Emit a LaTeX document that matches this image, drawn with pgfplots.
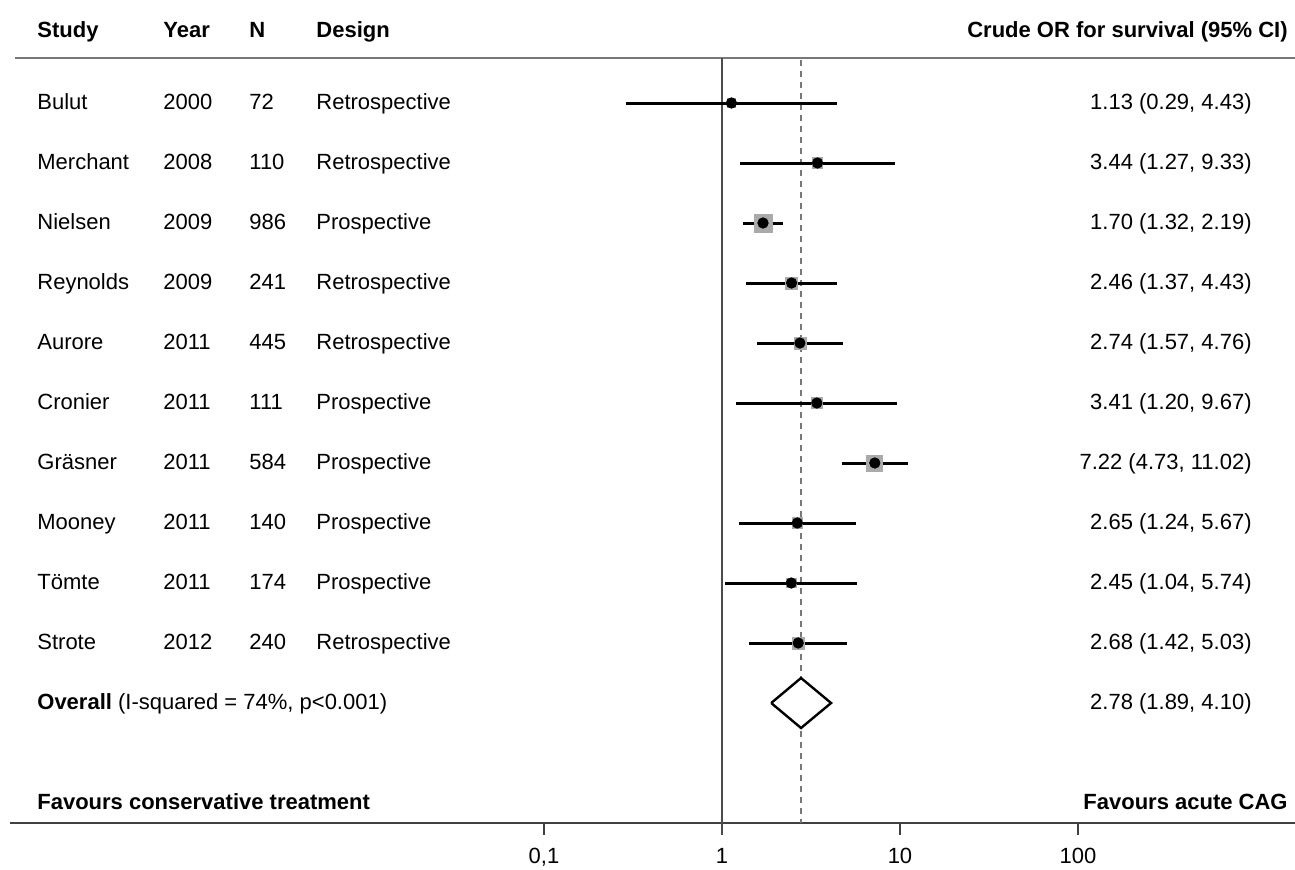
\documentclass[border=0pt]{standalone}
\usepackage{pgfplots}
\pgfplotsset{compat=1.18}
\usepackage{fontspec}
\setmainfont{Liberation Sans}
\definecolor{linegray}{RGB}{120,120,120}
\definecolor{boxgray}{RGB}{170,170,170}
\begin{document}
\fontsize{11}{13}\selectfont
\begin{tikzpicture}
\useasboundingbox (0,0) rectangle (647.5pt,-435pt);
\begin{axis}[at={(0,0)}, anchor=north west, width=647.5pt, height=435pt, scale only axis,
  xmode=log, xmin=8.79e-5, xmax=1656, ymin=0, ymax=870, y dir=reverse,
  hide axis, clip=false]
% reference lines
\draw[linegray, line width=0.9pt] (axis cs:1.07e-4,58) -- (axis cs:1656,58);
\draw[black!75, line width=0.9pt] (axis cs:1.0e-4,823) -- (axis cs:1656,823);
\draw[black!70, line width=0.9pt] (axis cs:1,58) -- (axis cs:1,835);
\draw[linegray, line width=0.6pt, dash pattern=on 3pt off 2.5pt] (axis cs:2.78,60) -- (axis cs:2.78,823);
\pgfplotsinvokeforeach{0.1,10,100}{\draw[black!75, line width=0.8pt] (axis cs:#1,823) -- (axis cs:#1,835);}
\node[anchor=base] at (axis cs:0.1,863) {0,1};
\node[anchor=base] at (axis cs:1,863) {1};
\node[anchor=base] at (axis cs:10,863) {10};
\node[anchor=base] at (axis cs:100,863) {100};
% confidence intervals
\pgfplotsset{ci/.style={black, line width=1.5pt, no marks, forget plot}}
\addplot[ci] coordinates {(0.29,103) (4.43,103)};
\addplot[ci] coordinates {(1.27,163) (9.33,163)};
\addplot[ci] coordinates {(1.32,223) (2.19,223)};
\addplot[ci] coordinates {(1.37,283) (4.43,283)};
\addplot[ci] coordinates {(1.57,343) (4.76,343)};
\addplot[ci] coordinates {(1.20,403) (9.67,403)};
\addplot[ci] coordinates {(4.73,463) (11.02,463)};
\addplot[ci] coordinates {(1.24,523) (5.67,523)};
\addplot[ci] coordinates {(1.04,583) (5.74,583)};
\addplot[ci] coordinates {(1.42,643) (5.03,643)};
% weight boxes
\addplot[only marks, mark=square*, mark options={fill=boxgray, draw=boxgray},
  visualization depends on={\thisrow{w} \as \wtsize},
  scatter, scatter/use mapped color={fill=boxgray, draw=boxgray},
  scatter/@pre marker code/.append style={/tikz/mark size=\wtsize pt}]
  table[x=or, y=row, meta=w] {
or row w
1.13 103 2.2
3.44 163 2.6
1.70 223 4.5
2.46 283 3.0
2.74 343 3.0
3.41 403 2.6
7.22 463 4.0
2.65 523 2.6
2.45 583 2.4
2.68 643 3.0
};
% point estimates
\addplot[only marks, mark=*, mark size=2.6pt, black] table[x=or, y=row] {
or row
1.13 103
3.44 163
1.70 223
2.46 283
2.74 343
3.41 403
7.22 463
2.65 523
2.45 583
2.68 643
};
% overall diamond
\addplot[black, line width=1.2pt, fill=white, no marks] coordinates {(1.89,703) (2.78,678) (4.10,703) (2.78,728) (1.89,703)};
\end{axis}
\begin{scope}[x=0.5pt, y=-0.5pt]
\foreach \hx/\htext in {37/Study, 163/Year, 249/N, 316/Design} {\node[anchor=base west, inner sep=0pt] at (\hx,38) {\bfseries \htext};}
\node[anchor=base east, inner sep=0pt] at (1288,38) {\bfseries Crude OR for survival (95\% CI)};
\foreach \rr/\ss/\yy/\nn/\dd/\vv in {
103/Bulut/2000/72/Retrospective/{1.13 (0.29, 4.43)},
163/Merchant/2008/110/Retrospective/{3.44 (1.27, 9.33)},
223/Nielsen/2009/986/Prospective/{1.70 (1.32, 2.19)},
283/Reynolds/2009/241/Retrospective/{2.46 (1.37, 4.43)},
343/Aurore/2011/445/Retrospective/{2.74 (1.57, 4.76)},
403/Cronier/2011/111/Prospective/{3.41 (1.20, 9.67)},
463/Gräsner/2011/584/Prospective/{7.22 (4.73, 11.02)},
523/Mooney/2011/140/Prospective/{2.65 (1.24, 5.67)},
583/Tömte/2011/174/Prospective/{2.45 (1.04, 5.74)},
643/Strote/2012/240/Retrospective/{2.68 (1.42, 5.03)}} {
  \node[anchor=base west, inner sep=0pt] at (37,\rr+7) {\ss};
  \node[anchor=base west, inner sep=0pt] at (163,\rr+7) {\yy};
  \node[anchor=base west, inner sep=0pt] at (249,\rr+7) {\nn};
  \node[anchor=base west, inner sep=0pt] at (316,\rr+7) {\dd};
  \node[anchor=base east, inner sep=0pt] at (1252,\rr+7) {\vv};
}
\node[anchor=base west, inner sep=0pt] at (37,710) {\textbf{Overall} (I-squared = 74\%, p<0.001)};
\node[anchor=base east, inner sep=0pt] at (1252,710) {2.78 (1.89, 4.10)};
\node[anchor=base west, inner sep=0pt] at (37,809) {\bfseries Favours conservative treatment};
\node[anchor=base east, inner sep=0pt] at (1288,809) {\bfseries Favours acute CAG};
\end{scope}
\end{tikzpicture}
\end{document}
